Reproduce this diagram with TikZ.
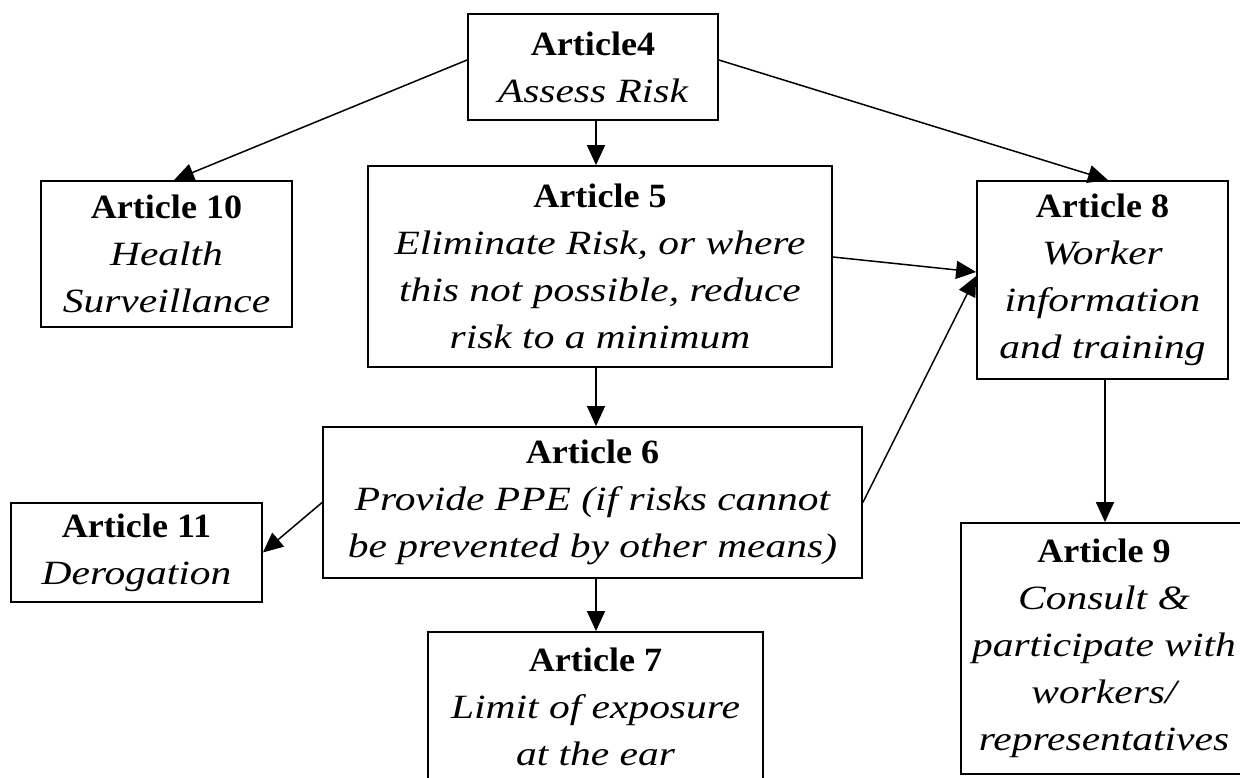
\documentclass[tikz,border=0pt]{standalone}
\usepackage{fontspec}
\setmainfont{Liberation Serif}
\newfontfamily\bfont[FakeStretch=1.06]{Liberation Serif}
\newfontfamily\ifont[FakeStretch=1.22]{Liberation Serif}
\usetikzlibrary{arrows.meta,calc}
\newcommand\hd[1]{{\bfont\bfseries\upshape #1}}
\tikzset{
  box/.style={draw, line width=1.8pt, rectangle, inner sep=0pt, align=center,
    font=\ifont\itshape\fontsize{34}{47}\selectfont},
  arr/.style={line width=1.5pt, -{Triangle[length=20pt,width=18pt]}}
}
\begin{document}
\begin{tikzpicture}[x=1pt,y=-1pt]
\fill[white] (0,0) rectangle (1240,778);
\useasboundingbox (0,0) rectangle (1240,778);

\node[box, minimum width=250pt, minimum height=106pt] (A4) at (593,67)
  {\hd{Article4}\\Assess Risk};
\node[box, minimum width=251pt, minimum height=146pt] (A10) at (166.5,254)
  {\hd{Article 10}\\Health\\Surveillance};
\node[box, minimum width=464pt, minimum height=201pt] (A5) at (600,266.5)
  {\hd{Article 5}\\Eliminate Risk, or where\\this not possible, reduce\\risk to a minimum};
\node[box, minimum width=251pt, minimum height=198pt] (A8) at (1102.5,280)
  {\hd{Article 8}\\Worker\\information\\and training};
\node[box, minimum width=539pt, minimum height=151pt] (A6) at (592.5,502.5)
  {\hd{Article 6}\\Provide PPE (if risks cannot\\be prevented by other means)};
\node[box, minimum width=251pt, minimum height=99pt] (A11) at (136.5,552.5)
  {\hd{Article 11}\\Derogation};
\node[box, minimum width=335pt, minimum height=150pt] (A7) at (595.5,707)
  {\hd{Article 7}\\Limit of exposure\\at the ear};
\node[box, minimum width=286pt, minimum height=251pt] (A9) at (1104,648.5)
  {\hd{Article 9}\\Consult \&\\participate with\\workers/\\representatives};

\coordinate (cx) at (596,0);
\coordinate (rx) at (1105,0);

\draw[arr] ($(A4.west)+(0,-7)$) -- ($(A10.north)+(7.5,0)$);
\draw[arr] (A4.south -| cx) -- (A5.north -| cx);
\draw[arr] ($(A4.east)+(0,-7)$) -- ($(A8.north)+(5.5,0)$);
\draw[arr] ($(A5.east)+(0,-9.5)$) -- ($(A8.west)+(0,-8)$);
\draw[arr] (A5.south -| cx) -- (A6.north -| cx);
\draw[arr] (A6.east) -- ($(A8.west)+(0,-4)$);
\draw[arr] (A6.west) -- (A11.east);
\draw[arr] (A6.south -| cx) -- (A7.north -| cx);
\draw[arr] (A8.south -| rx) -- (A9.north -| rx);
\end{tikzpicture}
\end{document}
